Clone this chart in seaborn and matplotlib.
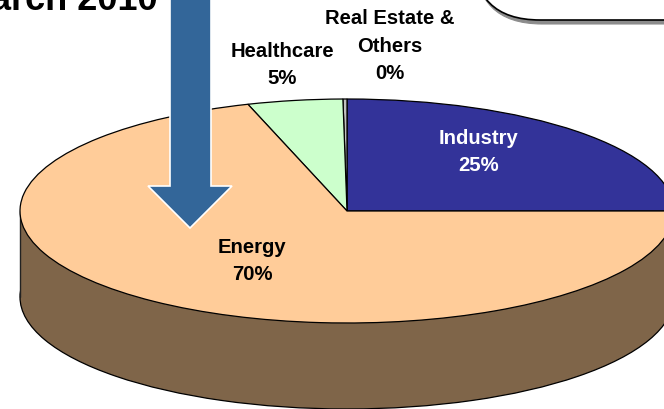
import matplotlib
matplotlib.use("Agg")
import matplotlib.pyplot as plt
import seaborn as sns
from matplotlib.patches import FancyBboxPatch, Polygon, Rectangle

sectors = ["Industry", "Real Estate &\nOthers", "Healthcare", "Energy"]
shares = [25.0, 0.2, 4.7, 70.1]
share_labels = ["25%", "0%", "5%", "70%"]
sector_colors = ["#333399", "#C0C0C0", "#CCFFCC", "#FFCC99"]
label_colors = ["white", "black", "black", "black"]

sns.set_theme(style="white")
plt.rcParams["font.family"] = ["Liberation Sans", "DejaVu Sans"]
plt.rcParams["font.weight"] = "bold"

# pie geometry in image pixels, the y axis is stretched so the circle turns into an ellipse
cx, cy = 347, 211
rx, ry = 327, 112
depth = 86
sy = rx / ry
wall_color = "#7F6549"

fig = plt.figure(figsize=(6.64, 4.09), dpi=100)
ax = fig.add_axes([0, 0, 1, 1])

# side wall of the disc
ax.pie([1], center=(cx, (cy + depth) * sy), radius=rx, colors=[wall_color], startangle=270,
       wedgeprops={"edgecolor": "black", "linewidth": 0.9, "zorder": 1})
ax.add_patch(Rectangle((cx - rx, cy * sy), 2 * rx, depth * sy, facecolor=wall_color, edgecolor="none", zorder=1.5))
ax.plot([cx - rx, cx - rx], [cy * sy, (cy + depth) * sy], color="#222222", lw=1.0, zorder=1.6)

# top face
ax.pie(shares, center=(cx, cy * sy), radius=rx, colors=sector_colors, startangle=0, counterclock=False,
       wedgeprops={"edgecolor": "black", "linewidth": 0.9, "zorder": 2})

ax.set_aspect("auto")
ax.set_xlim(0, 664)
ax.set_ylim(409 * sy, 0)
ax.set_axis_off()

# blue arrow over the pie
arrow = [(170, -5), (211, -5), (211, 186), (232, 186), (190, 228), (148, 186), (170, 186)]
ax.add_patch(Polygon([(x, y * sy) for x, y in arrow], closed=True, facecolor="#336699",
                     edgecolor="white", linewidth=1.2, zorder=3))

# callout box cut by the top edge
ax.add_patch(FancyBboxPatch((475, -100 * sy), 400, 124 * sy, boxstyle="round,pad=0,rounding_size=67",
                            mutation_aspect=sy, facecolor="#8c8c8c", edgecolor="#8c8c8c", linewidth=0.8, zorder=2.5))
ax.add_patch(FancyBboxPatch((473, -100 * sy), 400, 120 * sy, boxstyle="round,pad=0,rounding_size=67",
                            mutation_aspect=sy, facecolor="white", edgecolor="black", linewidth=1.2, zorder=2.6))

ax.text(158, 10 * sy, "March 2010", ha="right", va="baseline", fontsize=26, color="black", zorder=4)

label_pos = [(479, 152), (390, 46), (282, 65), (252, 261)]
for sector, pct, (x, y), col in zip(sectors, share_labels, label_pos, label_colors):
    ax.text(x, y * sy, sector + "\n" + pct, ha="center", va="center", fontsize=14.6, color=col,
            linespacing=1.55, zorder=4)

fig.savefig("out.png", dpi=100)
